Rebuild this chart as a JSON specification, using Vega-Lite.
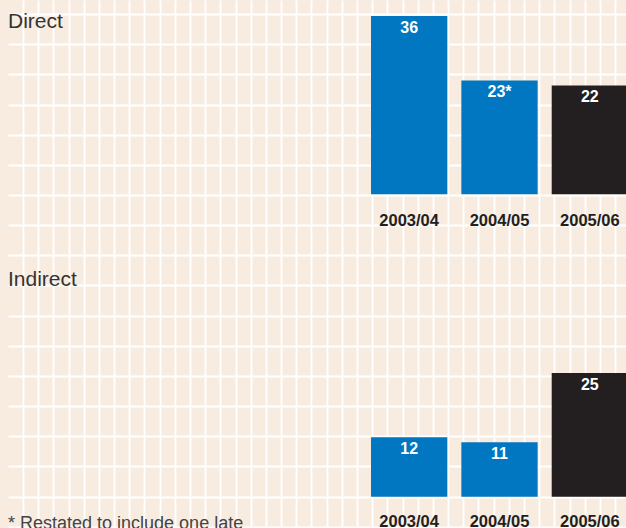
{
  "$schema": "https://vega.github.io/schema/vega-lite/v6.json",
  "padding": {"left": 8, "top": 0, "right": 0, "bottom": 0},
  "background": "#f8ece1",
  "spacing": 0,
  "config": {
    "view": {"stroke": null},
    "font": "Liberation Sans",
    "axis": {"gridColor": "#ffffff", "gridWidth": 1.8, "gridOpacity": 1, "domain": false, "ticks": false}
  },
  "data": {
    "values": [
      {"panel": "Direct", "year": "2003/04", "value": 36, "label": "36"},
      {"panel": "Direct", "year": "2004/05", "value": 23, "label": "23*"},
      {"panel": "Direct", "year": "2005/06", "value": 22, "label": "22"},
      {"panel": "Indirect", "year": "2003/04", "value": 12, "label": "12"},
      {"panel": "Indirect", "year": "2004/05", "value": 11, "label": "11"},
      {"panel": "Indirect", "year": "2005/06", "value": 25, "label": "25"}
    ]
  },
  "title": {
    "text": "* Restated to include one late",
    "orient": "bottom",
    "anchor": "start",
    "frame": "group",
    "fontSize": 18,
    "fontWeight": "normal",
    "color": "#444444",
    "baseline": "alphabetic",
    "offset": -1
  },
  "vconcat": [
    {
      "width": 618,
      "height": 240,
      "title": {"text": "Direct", "anchor": "start", "frame": "group", "orient": "top", "offset": -49, "baseline": "alphabetic", "fontSize": 21, "fontWeight": "normal", "color": "#333333"},
      "transform": [{"filter": "datum.panel === 'Direct'"}],
      "layer": [
        {
          "mark": {"type": "rule", "opacity": 0},
          "encoding": {
            "x": {"datum": 0, "type": "quantitative",
              "scale": {"domain": [-0.988, 39.72], "nice": false, "zero": false},
              "axis": {"orient": "top", "labels": false, "title": null, "grid": true,
                "values": [0,1,2,3,4,5,6,7,8,9,10,11,12,13,14,15,16,17,18,19,20,21,22,23,24,25,26,27,28,29,30,31,32,33,34,35,36,37,38,39]}},
            "y": {"datum": 0, "type": "quantitative",
              "scale": {"domain": [-9.23, 39.25], "nice": false, "zero": false},
              "axis": {"orient": "left", "labels": false, "title": null, "grid": true, "values": [36.42, 30.32, 24.24, 18.14, 12.04, 5.94, -0.14, -6.24]}}
          }
        },
        {
          "encoding": {
            "x": {"field": "year", "type": "nominal",
              "scale": {"range": [363, 620], "paddingInner": 0.1556, "paddingOuter": 0},
              "axis": {"orient": "bottom", "title": null, "labelAngle": 0, "labelFontSize": 16.5, "labelFontWeight": "bold", "labelColor": "#231f20", "offset": -20, "labelPadding": 0, "labelBaseline": "middle", "grid": false}},
            "y": {"field": "value", "type": "quantitative", "axis": null}
          },
          "layer": [
            {
              "mark": {"type": "bar"},
              "encoding": {
                "y2": {"datum": 0},
                "color": {"field": "year", "type": "nominal", "scale": {"domain": ["2003/04", "2004/05", "2005/06"], "range": ["#0077c0", "#0077c0", "#231f20"]}, "legend": null}
              }
            },
            {
              "mark": {"type": "text", "baseline": "top", "dy": 4, "fontSize": 16, "fontWeight": "bold", "color": "#ffffff"},
              "encoding": {"text": {"field": "label"}}
            }
          ]
        }
      ],
      "resolve": {"scale": {"x": "independent"}, "axis": {"x": "independent", "y": "independent"}}
    },
    {
      "width": 618,
      "height": 288,
      "title": {"text": "Indirect", "anchor": "start", "frame": "group", "orient": "top", "offset": -67, "baseline": "alphabetic", "fontSize": 21, "fontWeight": "normal", "color": "#333333"},
      "transform": [{"filter": "datum.panel === 'Indirect'"}],
      "layer": [
        {
          "mark": {"type": "rule", "opacity": 0},
          "encoding": {
            "x": {"datum": 0, "type": "quantitative",
              "scale": {"domain": [-0.988, 39.72], "nice": false, "zero": false},
              "axis": {"orient": "top", "labels": false, "title": null, "grid": true,
                "values": [0,1,2,3,4,5,6,7,8,9,10,11,12,13,14,15,16,17,18,19,20,21,22,23,24,25,26,27,28,29,30,31,32,33,34,35,36,37,38,39]}},
            "y": {"datum": 0, "type": "quantitative",
              "scale": {"domain": [-6.32, 51.86], "nice": false, "zero": false},
              "axis": {"orient": "left", "labels": false, "title": null, "grid": true, "values": [48.75, 42.67, 36.57, 30.48, 24.4, 18.32, 12.22, 6.14, 0, -6.1]}}
          }
        },
        {
          "encoding": {
            "x": {"field": "year", "type": "nominal",
              "scale": {"range": [363, 620], "paddingInner": 0.1556, "paddingOuter": 0},
              "axis": {"orient": "bottom", "title": null, "labelAngle": 0, "labelFontSize": 16.5, "labelFontWeight": "bold", "labelColor": "#231f20", "offset": -7, "labelPadding": 0, "labelBaseline": "middle", "grid": false}},
            "y": {"field": "value", "type": "quantitative", "axis": null}
          },
          "layer": [
            {
              "mark": {"type": "bar"},
              "encoding": {
                "y2": {"datum": 0},
                "color": {"field": "year", "type": "nominal", "scale": {"domain": ["2003/04", "2004/05", "2005/06"], "range": ["#0077c0", "#0077c0", "#231f20"]}, "legend": null}
              }
            },
            {
              "mark": {"type": "text", "baseline": "top", "dy": 4, "fontSize": 16, "fontWeight": "bold", "color": "#ffffff"},
              "encoding": {"text": {"field": "label"}}
            }
          ]
        }
      ],
      "resolve": {"scale": {"x": "independent"}, "axis": {"x": "independent", "y": "independent"}}
    }
  ]
}
